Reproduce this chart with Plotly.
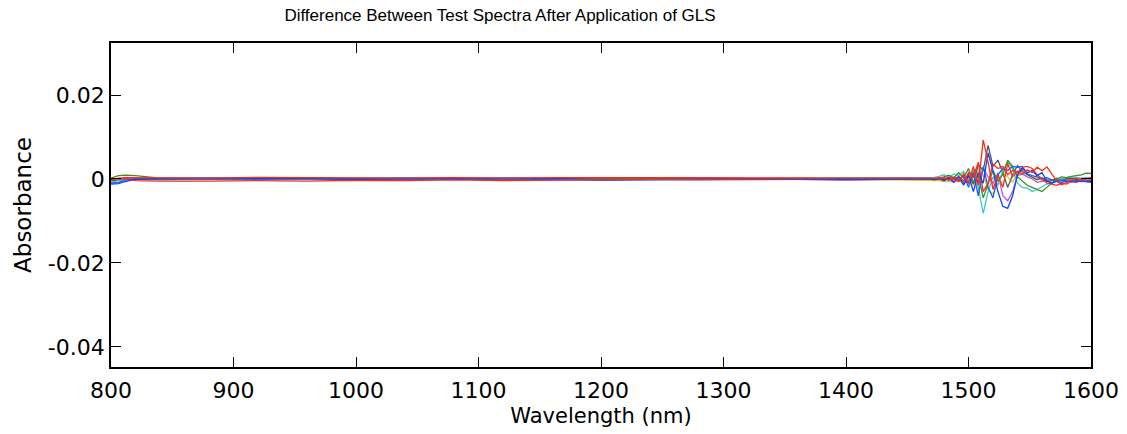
import plotly.graph_objects as go

# Wavelength grid (nm): coarse in the flat region, finer in the noisy region
wavelength = [800, 806, 812, 820, 840, 880, 920, 960, 1000, 1040, 1080, 1120, 1160,
              1200, 1240, 1280, 1320, 1360, 1400, 1440, 1468,
              1472, 1476, 1480, 1484, 1488, 1492, 1496, 1500, 1504, 1508, 1512, 1516,
              1520, 1524, 1528, 1532, 1536, 1540, 1544, 1548, 1552, 1556, 1560, 1564,
              1568, 1572, 1576, 1580, 1584, 1588, 1592, 1596, 1600]

diff_blue = [-0.0012, -0.0011, -0.0006, 0.0000, 0.0001, 0.0002, 0.0001, 0.0002, 0.0000, 0.0002,
             0.0001, 0.0002, 0.0001, 0.0003, 0.0003, 0.0002, 0.0001, 0.0001, -0.0001, 0.0000, 0.0001,
             -0.0002, 0.0001, -0.0004, 0.0002, -0.0008, 0.0005, -0.0015, 0.0008, -0.0030, 0.0015,
             -0.0010, 0.0062, 0.0020, -0.0030, -0.0065, -0.0070, -0.0040, 0.0010, 0.0025, 0.0015,
             0.0020, 0.0008, 0.0015, -0.0005, -0.0010, -0.0006, -0.0008, -0.0005, -0.0007, -0.0004,
             -0.0006, -0.0005, -0.0006]
diff_red = [-0.0003, 0.0002, 0.0003, 0.0003, 0.0003, 0.0002, 0.0004, 0.0003, 0.0003, 0.0002,
            0.0003, 0.0002, 0.0003, 0.0003, 0.0002, 0.0003, 0.0003, 0.0003, 0.0002, 0.0003, 0.0002,
            0.0002, 0.0001, 0.0003, -0.0002, 0.0004, -0.0006, 0.0012, -0.0010, 0.0030, -0.0015,
            0.0093, 0.0040, -0.0025, 0.0010, -0.0020, 0.0037, 0.0005, 0.0018, 0.0012, 0.0022,
            0.0015, 0.0028, 0.0020, 0.0029, 0.0012, -0.0005, -0.0014, -0.0008, -0.0004, 0.0002,
            -0.0003, 0.0001, 0.0004]
diff_green = [0.0002, 0.0008, 0.0009, 0.0008, 0.0002, 0.0002, 0.0002, 0.0002, 0.0002, 0.0002,
              0.0003, 0.0002, 0.0002, 0.0002, 0.0002, 0.0002, 0.0001, 0.0002, 0.0001, 0.0002, 0.0003,
              0.0003, 0.0002, 0.0005, 0.0009, 0.0003, 0.0015, 0.0002, 0.0025, -0.0008, 0.0010,
              -0.0045, -0.0010, 0.0020, -0.0005, 0.0010, 0.0045, 0.0030, 0.0005, -0.0005, -0.0015,
              -0.0020, -0.0025, -0.0030, -0.0020, -0.0010, 0.0000, 0.0005, 0.0003, 0.0006, 0.0008,
              0.0010, 0.0014, 0.0013]
diff_gray = [-0.0004, -0.0003, 0.0000, -0.0001, 0.0000, 0.0000, 0.0000, 0.0000, 0.0000, -0.0001,
             0.0000, 0.0000, 0.0000, 0.0000, -0.0001, 0.0000, 0.0000, 0.0000, -0.0001, 0.0000, 0.0000,
             0.0001, 0.0000, -0.0002, 0.0003, 0.0001, 0.0005, -0.0004, 0.0010, -0.0012, 0.0035,
             0.0020, 0.0080, 0.0030, 0.0045, 0.0015, -0.0020, 0.0010, 0.0032, 0.0018, 0.0010,
             0.0004, -0.0002, 0.0003, -0.0006, -0.0004, 0.0002, -0.0003, 0.0001, 0.0002, -0.0001,
             0.0000, 0.0002, 0.0001]
diff_cyan = [-0.0008, -0.0004, 0.0000, 0.0001, 0.0001, 0.0001, 0.0002, 0.0001, 0.0002, 0.0002,
             0.0001, 0.0002, 0.0002, 0.0002, 0.0001, 0.0002, 0.0002, 0.0001, 0.0003, 0.0003, 0.0004,
             0.0004, 0.0006, 0.0010, 0.0004, 0.0012, 0.0008, 0.0018, -0.0005, 0.0022, -0.0020,
             -0.0082, -0.0030, 0.0005, -0.0015, 0.0020, 0.0041, 0.0025, -0.0010, -0.0020, -0.0022,
             -0.0030, -0.0025, -0.0018, -0.0012, -0.0008, -0.0004, -0.0001, 0.0003, 0.0005, 0.0004,
             0.0002, 0.0003, 0.0002]
diff_yellow = [-0.0002, 0.0000, 0.0001, 0.0000, -0.0002, 0.0000, 0.0000, 0.0000, 0.0000, 0.0000,
               0.0000, 0.0000, 0.0000, 0.0000, 0.0000, 0.0000, 0.0000, 0.0000, -0.0001, -0.0002, -0.0003,
               -0.0003, -0.0004, -0.0006, -0.0005, -0.0008, -0.0004, -0.0010, 0.0005, -0.0015, 0.0020,
               0.0010, -0.0025, -0.0035, -0.0010, 0.0015, 0.0005, -0.0008, 0.0012, 0.0020, 0.0010,
               0.0005, 0.0002, -0.0003, 0.0000, -0.0002, 0.0001, -0.0002, 0.0000, 0.0001, -0.0001,
               0.0000, 0.0001, 0.0000]
diff_magenta = [-0.0005, -0.0002, 0.0000, 0.0000, 0.0000, 0.0000, 0.0000, 0.0000, 0.0000, 0.0000,
                0.0000, 0.0000, 0.0000, 0.0000, 0.0000, 0.0000, 0.0000, 0.0000, 0.0000, 0.0000, 0.0000,
                0.0000, 0.0002, -0.0001, 0.0003, 0.0000, -0.0006, 0.0008, -0.0012, 0.0018, -0.0008,
                0.0025, 0.0005, -0.0010, 0.0015, -0.0040, -0.0052, -0.0030, 0.0008, 0.0012, 0.0005,
                0.0000, -0.0008, -0.0005, -0.0003, -0.0002, -0.0001, 0.0000, -0.0002, -0.0001, 0.0000,
                -0.0001, 0.0000, 0.0000]
diff_red2 = [0.0000, 0.0001, 0.0001, -0.0004, -0.0005, -0.0005, -0.0004, -0.0005, -0.0003, -0.0004,
             -0.0002, -0.0004, -0.0003, -0.0002, -0.0001, -0.0002, -0.0001, -0.0001, -0.0002, -0.0001, 0.0001,
             0.0001, 0.0003, 0.0000, 0.0004, -0.0003, 0.0006, -0.0010, 0.0015, 0.0004, 0.0040,
             -0.0030, -0.0010, 0.0035, 0.0025, 0.0030, 0.0010, 0.0020, 0.0015, 0.0028, 0.0030,
             0.0025, 0.0010, 0.0000, -0.0010, -0.0012, -0.0015, -0.0010, -0.0012, -0.0006, -0.0008,
             -0.0004, -0.0005, -0.0003]
diff_blue2 = [-0.0010, -0.0008, -0.0002, 0.0000, 0.0000, 0.0000, 0.0000, 0.0001, -0.0001, -0.0001,
              0.0000, -0.0002, -0.0001, -0.0003, -0.0002, -0.0001, 0.0000, -0.0001, -0.0002, -0.0001, -0.0001,
              0.0000, -0.0001, 0.0002, -0.0003, 0.0004, -0.0002, 0.0010, -0.0020, 0.0015, -0.0040,
              0.0030, -0.0020, -0.0045, 0.0010, 0.0025, 0.0020, 0.0030, 0.0028, 0.0030, 0.0012,
              0.0008, 0.0005, 0.0000, 0.0003, -0.0002, -0.0004, -0.0003, -0.0005, -0.0004, -0.0006,
              -0.0005, -0.0007, -0.0008]

series = [
    (diff_yellow, "#d2c62a"),
    (diff_magenta, "#c452cf"),
    (diff_gray, "#555555"),
    (diff_cyan, "#3cc8c8"),
    (diff_green, "#3a8f22"),
    (diff_blue2, "#1f5ff0"),
    (diff_red2, "#ee3020"),
    (diff_blue, "#0a44ff"),
    (diff_red, "#ff2a10"),
]

x_ticks = [800, 900, 1000, 1100, 1200, 1300, 1400, 1500, 1600]
y_ticks = [-0.04, -0.02, 0, 0.02]
y_tick_labels = ["-0.04", "-0.02", "0", "0.02"]

fig = go.Figure()
for vals, col in series:
    fig.add_trace(go.Scatter(x=wavelength, y=vals, mode="lines",
                             line=dict(color=col, width=1.3), showlegend=False))

axis_common = dict(showline=True, linecolor="black", linewidth=1.8, mirror="ticks",
                   ticks="inside", ticklen=10, tickcolor="black", tickwidth=1,
                   showgrid=False, zeroline=False, automargin=False)

fig.update_layout(
    width=1127, height=434,
    margin=dict(l=111, r=36, t=43, b=67),
    paper_bgcolor="white", plot_bgcolor="white",
    font=dict(family="DejaVu Sans, sans-serif", color="black", size=22),
    title=dict(text="Difference Between Test Spectra After Application of GLS",
               x=500 / 1127, xanchor="center", y=1 - 15 / 434, yanchor="middle",
               font=dict(size=17, family="Liberation Sans, Arial, sans-serif")),
    xaxis=dict(range=[800, 1600], tickvals=x_ticks,
               title=dict(text="Wavelength (nm)", standoff=6, font=dict(size=21)),
               tickfont=dict(size=22), ticklabelstandoff=3, **axis_common),
    yaxis=dict(range=[-0.0448, 0.0324], tickvals=y_ticks, ticktext=y_tick_labels,
               title=dict(text="Absorbance", standoff=10, font=dict(size=23)),
               tickfont=dict(size=22), **axis_common),
)

fig.write_html("out.html")
